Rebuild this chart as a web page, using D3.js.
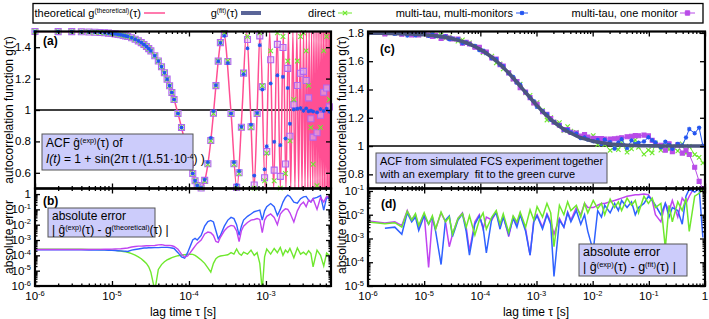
<!DOCTYPE html>
<html><head><meta charset="utf-8">
<script src="https://cdn.jsdelivr.net/npm/d3@7"></script>
<style>body{margin:0;background:#fff}svg text{font-family:"Liberation Sans",Arial,sans-serif}</style>
</head><body><svg id="c" width="709" height="319"></svg>
<script>
// ---------- DATA: panel (a)/(b)  (lag times in microseconds) ----------
const tauA_us = [1,2,3,4,5,6,7,8,9,10,11,12,13,14,15,16,18,20,22,24,26,28,30,32,36,40,44,48,52,56,60,64,72,80,88,96,104,112,120,128,144,160,176,192,208,224,240,256,288,320,352,384,416,448,480,512,576,640,704,768,832,896,960,1024,1152,1280,1408,1536,1664,1792,1920,2048,2304,2560,2816,3072,3328,3584,3840,4096,4608,5120,5632,6144,6656];
const directA = [1.4999,1.4995,1.4989,1.4980,1.4969,1.4955,1.4938,1.4920,1.4898,1.4875,1.4848,1.4820,1.4789,1.4755,1.4719,1.4681,
1.4598,1.4505,1.4403,1.4292,1.4173,1.4045,1.3909,1.3765,
1.3455,1.3117,1.2755,1.2370,1.1965,1.1545,1.1113,1.0671,
0.9776,0.8887,0.8035,0.7245,0.6545,0.5955,0.5495,0.5180,
0.5020,0.5495,0.6545,0.8035,0.9776,1.1545,1.3117,1.4292,
1.4920,1.3117,0.9776,0.6545,0.5020,0.5955,0.8887,1.2370,
1.4681,0.8887,0.5020,0.9776,1.4920,1.1545,0.5495,0.7245,
1.3765,0.5495,1.4920,0.5020,1.4681,0.5955,1.3117,0.8035,
1.0671,1.3117,1.4681,1.4920,1.3765,1.1545,0.8887,0.6545,
0.5180,0.8887,1.3765,1.4681,1.0671];
const multiA = [1.4999,1.4995,1.4989,1.4980,1.4969,1.4955,1.4938,1.4920,1.4898,1.4875,1.4848,1.4820,1.4789,1.4755,1.4719,1.4681,
1.4598,1.4505,1.4403,1.4292,1.4173,1.4045,1.3909,1.3765,
1.3455,1.3117,1.2755,1.2370,1.1965,1.1545,1.1113,1.0671,
0.9776,0.8887,0.8035,0.7245,0.6545,0.5955,0.5495,0.5180,
0.504,0.556,0.668,0.822,0.993,1.158,1.311,1.427,
1.472,1.299,0.978,0.668,0.522,0.611,0.893,1.228,
1.393,0.907,0.582,0.981,1.413,1.130,0.622,0.769,
1.169,0.797,1.221,0.776,1.211,0.818,1.140,0.912,
1.003,1.008,1.012,0.995,1.010,0.992,0.996,0.990,
0.985,1.006,0.994,1.008,0.989];
const oneA = [1.4999,1.4995,1.4989,1.4980,1.4969,1.4955,1.4938,1.4920,1.4898,1.4875,1.4848,1.4820,1.4789,1.4755,1.4719,1.4681,
1.4598,1.4505,1.4403,1.4292,1.4173,1.4045,1.3909,1.3765,
1.3455,1.3117,1.2755,1.2370,1.1965,1.1545,1.1113,1.0671,
0.9776,0.8887,0.8035,0.7245,0.6545,0.5955,0.5495,0.5180,
0.503,0.552,0.658,0.806,0.979,1.155,1.311,1.429,
1.487,1.309,0.978,0.658,0.507,0.600,0.890,1.235,
1.449,0.893,0.522,0.978,1.472,1.148,0.568,0.736,
1.320,0.617,1.418,0.577,1.398,0.656,1.265,0.833,
1.034,1.156,1.234,1.246,1.188,1.077,0.944,0.827,
0.855,0.967,1.113,1.140,1.020];
const tauTheo_us = [1,2,5,10,15,20,25,30,35,40,45,50,55,60,65,70,75,80,90,100,110,120,130,140,157.5,175,192.5,210,227.5,245,262.5,280,350,420,490,560,630,700,770,840,
980,1120,1260,1400,1540,1680,1820,1960,2100,2240,2380,2520,2660,2800,2940,3080,3220,3360,3500,3640,3780,3920,4060,4200,4340,4480,4620,4760,4900,5040,5180,5320,5460,5600,5740,5880,6020,6160,6300,6440,6580,6720,6860,7000];
const gTheo = [1.5,1.4995,1.4969,1.4875,1.4719,1.4505,1.4234,1.3909,1.3536,1.3117,1.2660,1.2169,1.1651,1.1113,1.0560,1.0,0.9440,0.8887,0.7831,0.6883,0.6091,0.5495,0.5125,0.5,0.5381,0.6464,0.8087,1.0,1.1913,1.3536,1.4619,1.5,1.0,0.5,1.0,1.5,1.0,0.5,1.0,1.5,
0.5,1.5,0.5,1.5,0.5,1.5,0.5,1.5,0.5,1.5,0.5,1.5,0.5,1.5,0.5,1.5,0.5,1.5,0.5,1.5,0.5,1.5,0.5,1.5,0.5,1.5,0.5,1.5,0.5,1.5,0.5,1.5,0.5,1.5,0.5,1.5,0.5,1.5,0.5,1.5,0.5,1.5,0.5,1.5];
const errDirectB = [2.5e-4,2.5e-4,2.5e-4,2.5e-4,2.45e-4,2.45e-4,2.4e-4,2.35e-4,2.3e-4,2.2e-4,2.1e-4,2e-4,1.9e-4,1.8e-4,1.7e-4,1.6e-4,
1.3e-4,1.05e-4,8e-5,6e-5,4.2e-5,3e-5,1.8e-5,8e-6,
5e-7,1.2e-5,2.5e-5,3.8e-5,5e-5,6e-5,7e-5,8e-5,
9.5e-5,1.05e-4,1.1e-4,1.15e-4,1.2e-4,1.15e-4,1e-4,8e-5,
5e-5,3e-5,1.5e-5,8e-6,3e-5,6e-5,8e-5,9e-5,
1e-4,1.1e-4,1.5e-4,1.2e-4,2.6e-4,1.3e-4,1e-4,1.6e-4,
1.2e-4,2.2e-4,1e-4,1.5e-4,3e-5,5e-7,8e-5,2.6e-4,
1.2e-4,2.8e-4,1.5e-4,3.3e-4,1e-4,2.2e-4,1.5e-4,2.8e-4,
7e-5,3e-4,1.2e-4,1.6e-4,1.1e-4,2e-4,1.3e-4,1.8e-5,
2.2e-4,1e-4,2e-5,1.4e-4,1e-4];
const errMultiB = [2.3e-4,2.3e-4,2.3e-4,2.3e-4,2.25e-4,2.25e-4,2.2e-4,2.2e-4,2.15e-4,2.1e-4,2.05e-4,2e-4,1.95e-4,1.9e-4,1.85e-4,1.8e-4,
2.2e-4,2.4e-4,2.6e-4,2.8e-4,3e-4,3e-4,3.1e-4,3.1e-4,
3.2e-4,3.2e-4,3.3e-4,3.3e-4,3.3e-4,3.2e-4,3e-4,2.8e-4,
1.5e-4,8e-5,6.5e-5,1.5e-4,4e-4,1e-3,1.3e-3,1e-3,
2e-3,8e-3,1.6e-2,1.9e-2,1.5e-2,4e-3,1.2e-3,2e-3,
8e-3,2e-2,3e-2,2.5e-2,1e-2,2e-3,8e-3,2e-2,
3.5e-2,5e-2,7e-2,8e-2,9e-2,2e-2,8e-2,1.5e-1,
2.4e-1,1.5e-1,4e-2,1e-1,3e-1,6e-1,8.6e-1,7e-1,
3e-1,2.5e-1,5e-1,6.5e-1,7e-1,4e-1,3e-1,5e-1,
6e-1,8e-1,9e-2,6e-1,5e-1];
const errOneB = [2.4e-4,2.4e-4,2.4e-4,2.4e-4,2.4e-4,2.45e-4,2.45e-4,2.5e-4,2.5e-4,2.55e-4,2.6e-4,2.65e-4,2.7e-4,2.8e-4,2.9e-4,3e-4,
3.5e-4,3.8e-4,4e-4,4e-4,4.1e-4,4.2e-4,4.2e-4,4.3e-4,
4.4e-4,4.8e-4,5e-4,4.6e-4,4.4e-4,4.5e-4,4.2e-4,3.8e-4,
2.5e-4,1.2e-4,7.5e-5,9e-5,1.5e-4,2.5e-4,4e-4,6e-4,
1e-3,2.5e-3,3.3e-3,3e-3,2e-3,8e-4,7e-4,1.5e-3,
4e-3,7e-3,9e-3,8e-3,4e-3,8e-4,4e-3,8e-3,
1.4e-2,2e-2,2.2e-2,2.5e-2,2.2e-2,3e-3,2e-2,3.5e-2,
5e-2,3e-2,1e-2,5e-2,8e-2,1.1e-1,1e-1,6e-2,
1.5e-2,8e-2,2e-1,3e-1,1.5e-1,4e-1,3e-1,5e-1,
1e-1,6e-1,3e-1,7e-1,6e-1];

// ---------- DATA: panel (c)/(d) ----------
const tauC_us = [1,2,3,4,5,6,7,8,10,12,14,16,20,24,28,32,40,48,56,64,80,96,112,128,160,192,224,256,320,384,448,512,640,768,896,1024,1280,1536,1792,2048,2560,3072,3584,4096,5120,6144,7168,8192,10240,12288,14336,16384,20480,24576,28672,32768,40960,49152,57344,65536,81920,98304,114688,131072,163840,196608,229376,262144,327680,393216,458752,524288,655360,786432,917504];
const fitC = [1.7986,1.7973,1.7959,1.7946,1.7933,1.7919,1.7906,1.7893,
1.7866,1.7840,1.7814,1.7788,1.7737,1.7686,1.7636,1.7587,
1.7490,1.7396,1.7303,1.7214,1.7040,1.6875,1.6716,1.6565,
1.6282,1.6022,1.5782,1.5560,1.5163,1.4817,1.4513,1.4245,
1.3791,1.3422,1.3117,1.2860,1.2451,1.2140,1.1897,1.1701,
1.1404,1.1192,1.1032,1.0907,1.0726,1.0601,1.0510,1.0441,
1.0343,1.0278,1.0232,1.0198,1.0151,1.0120,1.0099,1.0083,
1.0062,1.0049,1.0040,1.0033,1.0024,1.0019,1.0015,1.0013,
1.0009,1.0007,1.0006,1.0005,1.0003,1.0003,1.0002,1.0002,
1.0001,1.0001,1.0001];
const resDirectC = [0.005,-0.0042,0.0046,-0.003,0.014,-0.006,0.011,-0.0035,
0.012,-0.004,0.009,-0.0025,0.013,-0.005,0.008,-0.0015,
-0.007,0.011,-0.003,0.009,-0.0014,0.006,-0.012,0.0025,
0.008,-0.015,0.004,-0.011,0.0018,-0.009,0.005,0.013,
-0.003,0.016,-0.006,0.022,0.008,-0.03,0.012,0.00045,
0.025,-0.01,0.035,0.015,0.025,0.008,0.03,0.012,
0.04,-0.018,0.03,-0.01,-0.045,-0.02,-0.035,0.015,
-0.05,-0.025,0.04,-0.012,-0.06,-0.03,-0.05,0.02,
-0.03,0.0004,-0.025,-0.005,-0.035,0.015,-0.05,-0.002,
-0.06,-0.08,-0.12];
const resMultiC = [0,0.0027,-0.003,0.0015,-0.012,0.005,-0.008,0.0022,
0.009,-0.004,0.008,-0.002,0.00008,0.006,-0.009,0.0012,
0.006,-0.011,0.002,-0.0002,0.004,-0.009,0.003,0.00025,
-0.007,0.012,-0.0025,0.008,-0.0015,0.007,-0.003,0.01,
0.002,-0.0002,0.005,-0.009,0.0025,0.01,-0.004,0.000025,
0.006,-0.003,0.012,0.005,0.015,-0.004,0.01,0.002,
-0.0003,0.015,-0.008,0.025,0.012,-0.03,0.015,0.04,
-0.02,0.035,0.01,0.02,0.03,0.06,0.04,0.025,
-0.01,0.03,0.008,-0.02,0.015,0.004,0.06,0.12,
0.09,0.13,0.0011];
const resOneC = [0.0055,-0.0045,0.005,-0.0035,0.015,-0.006,0.01,-0.003,
0.011,0.00006,-0.007,0.0025,-0.012,0.005,0.00045,-0.0015,
0.007,-0.012,0.003,0.0003,-0.005,0.01,-0.0025,0.008,
-0.006,0.013,-0.003,0.009,0.0012,-0.008,0.004,-0.011,
0.0025,0.0002,-0.006,0.01,-0.003,0.011,0.005,-0.0015,
0.007,-0.003,0.013,0.006,0.02,0.01,0.03,0.02,
0.02,0.025,0.03,0.03,0.035,0.04,0.045,0.05,
0.06,0.065,0.07,0.07,0.075,0.07,0.04,0.01,
0.005,-0.03,0.015,-0.04,0.008,-0.05,-0.03,-0.06,
-0.15,-0.25,-0.3];

// ---------- tick labels ----------
const yTicksA = [0.6,0.8,1,1.2,1.4];
const yTicksC = [0.8,1,1.2,1.4,1.6,1.8];
const decB = [-6,-5,-4,-3,-2,-1,0];
const decD = [-5,-4,-3,-2,-1];
const decXA = [-6,-5,-4,-3];
const decXC = [-6,-5,-4,-3,-2,-1,0];

// ---------- colours ----------
const C_THEO="#ff4f93", C_FIT="#4b557f", C_GREEN="#6fe82e", C_BLUE="#2456f0", C_PURP="#b94ce8";

const svg = d3.select("#c");
const us = 1e-6;

const xA = d3.scaleLog().domain([1e-6,7e-3]).range([35,331]);
const yA = d3.scaleLinear().domain([0.5,1.5]).range([188.5,31.5]);
const yB = d3.scaleLog().domain([1e-6,2.3]).range([286,188.5]);
const xC = d3.scaleLog().domain([1e-6,1]).range([368,705]);
const yC = d3.scaleLinear().domain([0.7,1.81]).range([188.5,31.5]);
const yD = d3.scaleLog().domain([1e-5,0.127]).range([286,188.5]);

// clip paths
const defs = svg.append("defs");
function clip(id,x,y){defs.append("clipPath").attr("id",id).append("rect")
  .attr("x",x.range()[0]).attr("y",y.range()[1]).attr("width",x.range()[1]-x.range()[0]).attr("height",y.range()[0]-y.range()[1]);}
clip("cA",xA,yA);clip("cB",xA,yB);clip("cC",xC,yC);clip("cD",xC,yD);

function logMinor(lo,hi){const r=[];for(let e=lo;e<hi;e++)for(let k=2;k<=9;k++)r.push(k*Math.pow(10,e));return r;}
function pow10(list){return list.map(e=>Math.pow(10,e));}

function ticks(x,y,xMaj,xMin,yMaj,yMin){
  const g=svg.append("g");
  const [yb,yt]=y.range(),[xl,xr]=x.range();
  const put=(gen,tr)=>g.append("g").attr("transform",tr).call(gen)
    .call(s=>{s.select(".domain").remove();s.selectAll("line").attr("stroke","#000").attr("stroke-width",1.3);s.selectAll("text").remove();});
  put(d3.axisBottom(x).tickValues(xMaj).tickSize(-5),`translate(0,${yb})`);
  put(d3.axisTop(x).tickValues(xMaj).tickSize(-5),`translate(0,${yt})`);
  if(xMin){put(d3.axisBottom(x).tickValues(xMin).tickSize(-2.5),`translate(0,${yb})`);
    put(d3.axisTop(x).tickValues(xMin).tickSize(-2.5),`translate(0,${yt})`);}
  put(d3.axisLeft(y).tickValues(yMaj).tickSize(-5),`translate(${xl},0)`);
  put(d3.axisRight(y).tickValues(yMaj).tickSize(-5),`translate(${xr},0)`);
  if(yMin){put(d3.axisLeft(y).tickValues(yMin).tickSize(-2.5),`translate(${xl},0)`);
    put(d3.axisRight(y).tickValues(yMin).tickSize(-2.5),`translate(${xr},0)`);}
}
function frame(x,y){svg.append("rect").attr("x",x.range()[0]).attr("y",y.range()[1])
  .attr("width",x.range()[1]-x.range()[0]).attr("height",y.range()[0]-y.range()[1])
  .attr("fill","none").attr("stroke","#000").attr("stroke-width",2.2);}

function expLabel(px,py,e,anchor){
  const t=svg.append("text").attr("x",px).attr("y",py).attr("text-anchor",anchor).attr("font-size",11.5).attr("fill","#000");
  if(e===0){t.text("1");return;}
  t.append("tspan").text("10");
  t.append("tspan").attr("dy",-4.5).attr("font-size",7.5).text(String(e));
}

// ---------- lines/markers helpers ----------
const mkX=s=>`M${-s},${-s}L${s},${s}M${-s},${s}L${s},${-s}`;
const mkSq=s=>`M${-s},${-s}H${s}V${s}H${-s}Z`;
const mkStar=s=>`M${-s},0H${s}M0,${-s}V${s}M${-s*.75},${-s*.75}L${s*.75},${s*.75}M${-s*.75},${s*.75}L${s*.75},${-s*.75}`;

// ===== PANEL (a) =====
const gA=svg.append("g");
gA.append("line").attr("x1",35).attr("x2",331).attr("y1",yA(1)).attr("y2",yA(1)).attr("stroke","#000").attr("stroke-width",1.3);
gA.append("path").attr("clip-path","url(#cA)")
  .attr("d",d3.line().x(i=>xA(tauTheo_us[i]*us)).y(i=>yA(gTheo[i])).curve(d3.curveMonotoneX)(d3.range(tauTheo_us.length)))
  .attr("fill","none").attr("stroke",C_THEO).attr("stroke-width",1.5);
const idxA=d3.range(tauA_us.length);
gA.selectAll(".pa").data(idxA).join("path")
  .attr("transform",i=>`translate(${xA(tauA_us[i]*us)},${yA(oneA[i])})`).attr("d",mkSq(3))
  .attr("fill","rgba(215,185,250,0.55)").attr("stroke","#b266f0").attr("stroke-width",1.1);
gA.selectAll(".ga").data(idxA).join("path")
  .attr("transform",i=>`translate(${xA(tauA_us[i]*us)},${yA(directA[i])})`).attr("d",mkX(2.3))
  .attr("stroke",C_GREEN).attr("stroke-width",1.1);
gA.selectAll(".ba").data(idxA).join("path")
  .attr("transform",i=>`translate(${xA(tauA_us[i]*us)},${yA(multiA[i])})`).attr("d",mkStar(2)+mkSq(1))
  .attr("fill",C_BLUE).attr("stroke",C_BLUE).attr("stroke-width",0.9);

// ===== PANEL (b) =====
const lineB=arr=>d3.line().defined(i=>arr[i]>0).x(i=>xA(tauA_us[i]*us)).y(i=>yB(arr[i]))(idxA);
const gB=svg.append("g").attr("clip-path","url(#cB)");
[[errDirectB,C_GREEN],[errMultiB,"#2f62ff"],[errOneB,"#c044f0"]].forEach(([a,c])=>
  gB.append("path").attr("d",lineB(a)).attr("fill","none").attr("stroke",c).attr("stroke-width",1.4));

// ===== PANEL (c) =====
const idxC=d3.range(tauC_us.length);
const gC=svg.append("g").attr("clip-path","url(#cC)");
gC.append("line").attr("x1",368).attr("x2",705).attr("y1",yC(1)).attr("y2",yC(1)).attr("stroke","#000").attr("stroke-width",1.5);
function seriesC(res,col,mk,fill){
  const line=d3.line().x(i=>xC(tauC_us[i]*us)).y(i=>yC(fitC[i]+res[i]));
  gC.append("path").attr("d",line(idxC)).attr("fill","none").attr("stroke",col).attr("stroke-width",1);
  gC.selectAll(null).data(idxC).join("path")
    .attr("transform",i=>`translate(${xC(tauC_us[i]*us)},${yC(fitC[i]+res[i])})`).attr("d",mk)
    .attr("fill",fill).attr("stroke",col).attr("stroke-width",1.1);
}
seriesC(resDirectC,C_GREEN,mkX(2.2),"none");
seriesC(resOneC,C_PURP,mkSq(2),C_PURP);
seriesC(resMultiC,C_BLUE,mkStar(2.2)+mkSq(1.1),C_BLUE);
gC.append("path").attr("d",d3.line().x(i=>xC(tauC_us[i]*us)).y(i=>yC(fitC[i])).curve(d3.curveMonotoneX)(idxC))
  .attr("fill","none").attr("stroke",C_FIT).attr("stroke-width",3.6);

// ===== PANEL (d) =====
const gD=svg.append("g").attr("clip-path","url(#cD)");
const lineD=arr=>d3.line().defined(i=>Math.abs(arr[i])>0).x(i=>xC(tauC_us[i]*us)).y(i=>yD(Math.abs(arr[i])))(idxC);
[[resOneC,"#c044f0"],[resMultiC,"#2f62ff"],[resDirectC,C_GREEN]].forEach(([a,c])=>
  gD.append("path").attr("d",lineD(a)).attr("fill","none").attr("stroke",c).attr("stroke-width",1.5));

// ===== ticks & frames =====
ticks(xA,yA,pow10(decXA),logMinor(-6,-3).concat([2e-3,3e-3,4e-3,5e-3,6e-3]),yTicksA,null);
ticks(xA,yB,pow10(decXA),logMinor(-6,-3).concat([2e-3,3e-3,4e-3,5e-3,6e-3]),pow10(decB),logMinor(-6,0));
ticks(xC,yC,pow10(decXC),logMinor(-6,0),yTicksC,null);
ticks(xC,yD,pow10(decXC),logMinor(-6,0),pow10(decD),logMinor(-5,-1));
frame(xA,yA);frame(xA,yB);frame(xC,yC);frame(xC,yD);

// ===== axis titles =====
function vtitle(x,y,txt){svg.append("text").attr("transform",`translate(${x},${y}) rotate(-90)`).attr("text-anchor","middle").attr("font-size",12).text(txt);}
vtitle(13,110,"autocorrelation function g(τ)");
vtitle(13,237,"absolute error");
vtitle(346,110,"autocorrelation function g(τ)");
vtitle(346,237,"absolute error");
svg.append("text").attr("x",183).attr("y",316).attr("text-anchor","middle").attr("font-size",12).text("lag time τ [s]");
svg.append("text").attr("x",536).attr("y",316).attr("text-anchor","middle").attr("font-size",12).text("lag time τ [s]");

// ===== tick labels =====
yTicksA.forEach(v=>svg.append("text").attr("x",31).attr("y",yA(v)+4).attr("text-anchor","end").attr("font-size",11.5).attr("fill","#000").text(String(v)));
yTicksC.forEach(v=>svg.append("text").attr("x",364).attr("y",yC(v)+4).attr("text-anchor","end").attr("font-size",11.5).attr("fill","#000").text(String(v)));
decB.forEach(e=>expLabel(31,yB(Math.pow(10,e))+4,e,"end"));
decD.forEach(e=>expLabel(364,yD(Math.pow(10,e))+4,e,"end"));
decXA.forEach(e=>expLabel(xA(Math.pow(10,e)),300,e,"middle"));
decXC.forEach(e=>expLabel(xC(Math.pow(10,e)),300,e,"middle"));

// panel letters
[["(a)",43,45],["(b)",43,205],["(c)",380,53],["(d)",381,208]].forEach(([t,x,y])=>
  svg.append("text").attr("x",x).attr("y",y).attr("font-size",12).attr("font-weight","bold").text(t));

// ===== text boxes =====
function box(x,y,w,h){svg.append("rect").attr("x",x).attr("y",y).attr("width",w).attr("height",h).attr("fill","#ccccfb").attr("stroke","#555").attr("stroke-width",1);}
function rich(x,y,size,parts){const t=svg.append("text").attr("x",x).attr("y",y).attr("font-size",size);
  parts.forEach(p=>{const s=t.append("tspan").text(p.t);
    if(p.sup){s.attr("font-size",size*0.6).attr("dy",-size*0.35);}
    if(p.back){s.attr("dy",size*0.35);}
    if(p.it)s.attr("font-style","italic");});return t;}
box(42,134,151,36);
rich(46,147,12,[{t:"ACF ĝ"},{t:"(exp)",sup:1},{t:"(τ) of",back:1}]);
rich(46,163,12,[{t:"I(t)",it:1},{t:" = 1 + sin(2π t /(1.51·10"},{t:"-4",sup:1},{t:") )",back:1}]);
box(48,208,107,29);
rich(52,219.5,12,[{t:"absolute error"}]);
rich(52,234,12,[{t:"| ĝ"},{t:"(exp)",sup:1},{t:"(τ) - g",back:1},{t:"(theoretical)",sup:1},{t:"(τ) |",back:1}]);
box(376,153,231,30);
rich(380,165,11,[{t:"ACF from simulated FCS experiment together"}]);
rich(380,178,11,[{t:"with an exemplary  fit to the green curve"}]).attr("xml:space","preserve").style("white-space","pre");
box(579,244,108,32);
rich(583,256,12.5,[{t:"absolute error"}]);
rich(583,271,12.5,[{t:"| ĝ"},{t:"(exp)",sup:1},{t:"(τ) - g",back:1},{t:"(fit)",sup:1},{t:"(τ) |",back:1}]);

// ===== legend =====
svg.append("rect").attr("x",33).attr("y",3.5).attr("width",670).attr("height",19.5).attr("fill","#fff").attr("stroke","#000").attr("stroke-width",1.3);
const LY=17, LM=13;
rich(0,LY,11,[{t:"theoretical g"},{t:"(theoretical)",sup:1},{t:"(τ)",back:1}]).attr("x",141).attr("text-anchor","end");
svg.append("line").attr("x1",144).attr("x2",165).attr("y1",LM).attr("y2",LM).attr("stroke",C_THEO).attr("stroke-width",1.5);
rich(0,LY,11,[{t:"g"},{t:"(fit)",sup:1},{t:"(τ)",back:1}]).attr("x",238).attr("text-anchor","end");
svg.append("line").attr("x1",241).attr("x2",261).attr("y1",LM).attr("y2",LM).attr("stroke","#5a6598").attr("stroke-width",4);
rich(0,LY,11,[{t:"direct"}]).attr("x",335).attr("text-anchor","end");
svg.append("line").attr("x1",338).attr("x2",352).attr("y1",LM).attr("y2",LM).attr("stroke",C_GREEN).attr("stroke-width",1);
svg.append("path").attr("transform",`translate(345,${LM})`).attr("d",mkX(2.2)).attr("stroke",C_GREEN).attr("stroke-width",1.2);
rich(0,LY,11,[{t:"multi-tau, multi-monitors"}]).attr("x",513).attr("text-anchor","end");
svg.append("line").attr("x1",516).attr("x2",528).attr("y1",LM).attr("y2",LM).attr("stroke",C_BLUE).attr("stroke-width",1);
svg.append("path").attr("transform",`translate(522,${LM})`).attr("d",mkStar(2.2)+mkSq(1.3)).attr("fill",C_BLUE).attr("stroke",C_BLUE).attr("stroke-width",1);
rich(0,LY,11,[{t:"multi-tau, one monitor"}]).attr("x",678).attr("text-anchor","end");
svg.append("line").attr("x1",680).attr("x2",695).attr("y1",LM).attr("y2",LM).attr("stroke",C_PURP).attr("stroke-width",1);
svg.append("path").attr("transform",`translate(687.5,${LM})`).attr("d",mkSq(2.2)).attr("fill",C_PURP).attr("stroke",C_PURP);
</script></body></html>
